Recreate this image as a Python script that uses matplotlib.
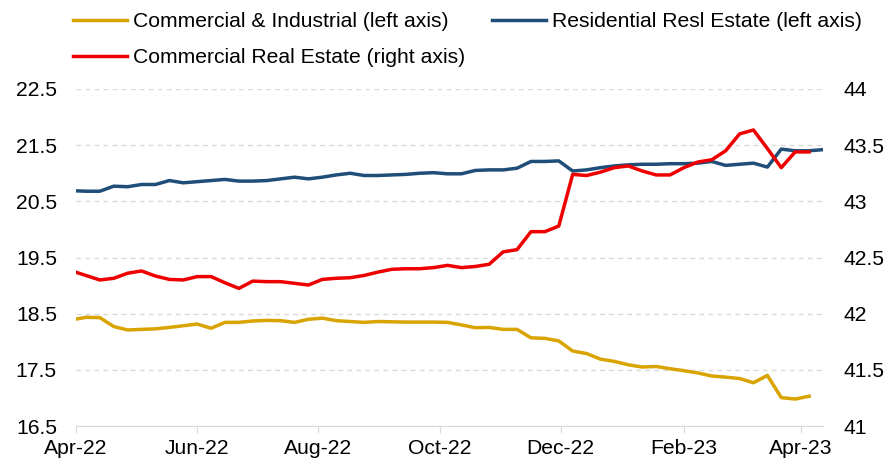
import pandas as pd
import matplotlib.pyplot as plt
import matplotlib.dates as mdates

# weekly (Wednesday) observations
weeks = pd.date_range('2022-03-30', periods=55, freq='7D')

residential = [20.69, 20.68, 20.68, 20.77, 20.76, 20.80, 20.80, 20.87, 20.83, 20.85,
               20.87, 20.89, 20.86, 20.86, 20.87, 20.90, 20.93, 20.90, 20.93, 20.97,
               21.00, 20.96, 20.96, 20.97, 20.98, 21.00, 21.01, 20.99, 20.99, 21.05,
               21.06, 21.06, 21.09, 21.21, 21.21, 21.22, 21.04, 21.06, 21.10, 21.13,
               21.15, 21.16, 21.16, 21.17, 21.17, 21.18, 21.21, 21.14, 21.16, 21.18,
               21.11, 21.43, 21.40, 21.40, 21.42]

comm_ind = [18.39, 18.435, 18.43, 18.27, 18.21, 18.22, 18.23, 18.255, 18.285, 18.315,
            18.24, 18.345, 18.345, 18.37, 18.38, 18.375, 18.345, 18.40, 18.42, 18.375,
            18.36, 18.345, 18.36, 18.355, 18.35, 18.35, 18.35, 18.345, 18.30, 18.25,
            18.255, 18.22, 18.22, 18.07, 18.06, 18.015, 17.835, 17.79, 17.69, 17.65,
            17.59, 17.55, 17.56, 17.52, 17.485, 17.445, 17.39, 17.37, 17.345, 17.27,
            17.40, 17.005, 16.98, 17.03]

comm_re = [42.38, 42.34, 42.30, 42.315, 42.36, 42.38, 42.335, 42.305, 42.30, 42.33,
           42.33, 42.275, 42.225, 42.29, 42.285, 42.285, 42.27, 42.255, 42.305, 42.315,
           42.32, 42.34, 42.37, 42.395, 42.40, 42.40, 42.41, 42.43, 42.41, 42.42,
           42.44, 42.55, 42.57, 42.73, 42.73, 42.78, 43.24, 43.23, 43.26, 43.30,
           43.315, 43.27, 43.235, 43.235, 43.30, 43.35, 43.37, 43.45, 43.60, 43.635,
           43.47, 43.30, 43.44, 43.44]

left_ticks = [16.5, 17.5, 18.5, 19.5, 20.5, 21.5, 22.5]
right_ticks = [41, 41.5, 42, 42.5, 43, 43.5, 44]
right_labels = ['41', '41.5', '42', '42.5', '43', '43.5', '44']

labels = ['Commercial & Industrial (left axis)',
          'Commercial Real Estate (right axis)',
          'Residential Resl Estate (left axis)']

plt.rcParams['font.family'] = ['Liberation Sans', 'DejaVu Sans']
plt.rcParams['font.size'] = 15.2

fig = plt.figure(figsize=(8.85, 4.63), dpi=100)
ax = fig.add_axes([76 / 885, 1 - 426 / 463, (823 - 76) / 885, (426 - 89) / 463])
ax2 = ax.twinx()

l1, = ax.plot(weeks[:len(comm_ind)], comm_ind, color='#D9A300', lw=2.5)
l2, = ax.plot(weeks, residential, color='#1F4E79', lw=2.5)
l3, = ax2.plot(weeks[:len(comm_re)], comm_re, color='#EE0000', lw=2.5)

ax.set_ylim(16.5, 22.5)
ax.set_yticks(left_ticks)
ax.set_yticklabels([str(t) for t in left_ticks])
ax2.set_ylim(41, 44)
ax2.set_yticks(right_ticks)
ax2.set_yticklabels(right_labels)

ax.set_xlim(pd.Timestamp('2022-04-01'), weeks[-1])
ax.xaxis.set_major_locator(mdates.MonthLocator(bymonth=[2, 4, 6, 8, 10, 12]))
ax.xaxis.set_major_formatter(mdates.DateFormatter('%b-%y'))

for s in ['top', 'left', 'right']:
    ax.spines[s].set_visible(False)
for s in ax2.spines.values():
    s.set_visible(False)
ax.spines['bottom'].set_color('#D9D9D9')

ax.yaxis.grid(True, linestyle=(0, (3.5, 3)), color='#D9D9D9', lw=1)
ax.set_axisbelow(True)

ax.tick_params(axis='y', length=0, pad=13.7)
ax2.tick_params(axis='y', length=0, pad=14.4)
ax.tick_params(axis='x', length=5, color='#D9D9D9', pad=4.3)

fig.legend([l1, l3, l2], labels, ncol=2, loc='upper left',
           bbox_to_anchor=(73 / 885, 1 - 12 / 463), frameon=False,
           borderpad=0, borderaxespad=0, handlelength=2.56,
           handletextpad=0.27, columnspacing=1.3, labelspacing=0.82)

fig.savefig('out.png', dpi=100)
